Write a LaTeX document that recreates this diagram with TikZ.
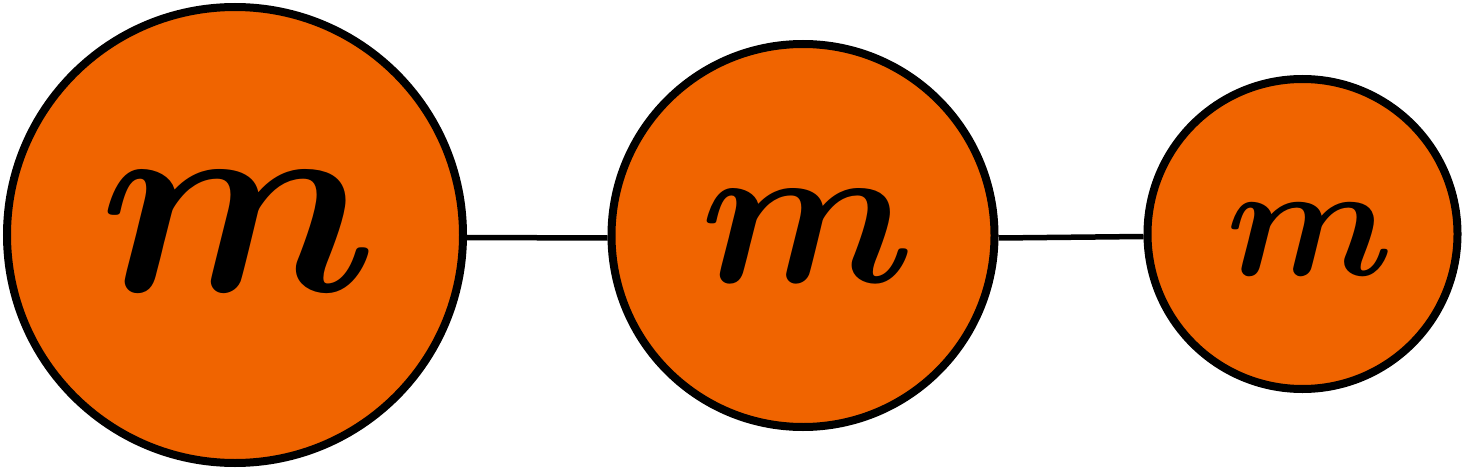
\documentclass[tikz,border=0pt]{standalone}
\usepackage{graphicx}
\usepackage{bm}
\definecolor{ballorange}{RGB}{240,100,0}
\tikzset{
  ball/.style={circle, draw=black, line width=8pt, fill=ballorange, inner sep=0pt, text=black},
  link/.style={draw=black, line width=5.5pt},
  mlabel/.style={inner sep=0pt, text=black}
}
\begin{document}
\begin{tikzpicture}[x=1pt,y=-1pt]
\useasboundingbox (0,0) rectangle (1464,468);
\node[ball, minimum size=456pt] (a) at (235,235) {};
\node[ball, minimum size=383pt] (b) at (803,235.5) {};
\node[ball, minimum size=310pt] (c) at (1302.5,234) {};
\draw[link] ([yshift=-2.5pt]a.east) -- ([yshift=-2.5pt]b.west);
\draw[link] ([yshift=-2.5pt]b.east) -- ([yshift=-2.5pt]c.west);
\node[mlabel] (ma) at (239,231) {\scalebox{27}{$\bm{m}$}};
\node[mlabel] (mb) at (808,236) {\scalebox{20.8}{$\bm{m}$}};
\node[mlabel] (mc) at (1310,239.5) {\scalebox{16.2}{$\bm{m}$}};
\end{tikzpicture}
\end{document}
